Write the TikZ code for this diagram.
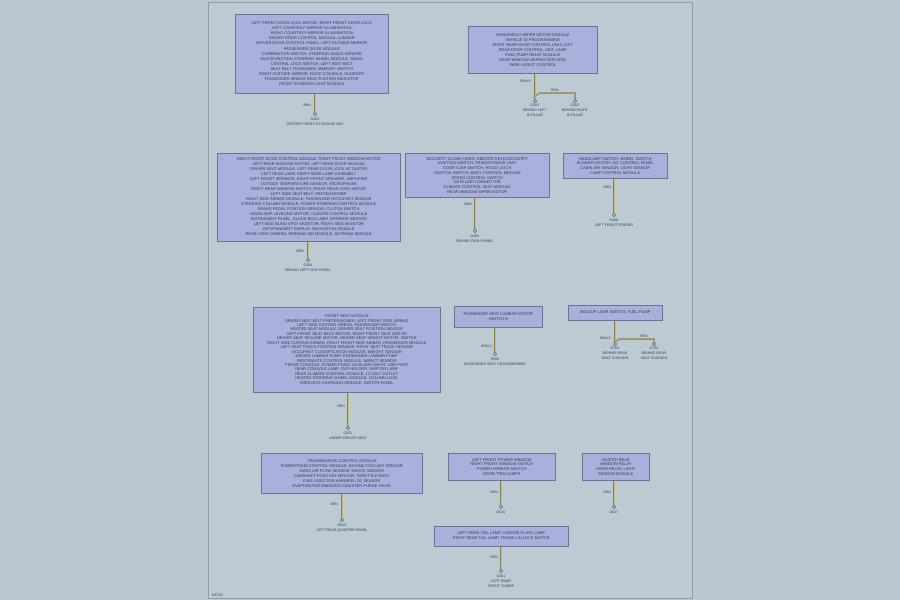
\documentclass[tikz,border=0pt]{standalone}
\usepackage{fontspec}
\setmainfont{Liberation Sans}
\definecolor{bgout}{HTML}{B8C7D1}
\definecolor{bgpage}{HTML}{BCCAD4}
\definecolor{pageline}{HTML}{8D9CA7}
\definecolor{boxfill}{HTML}{A9B0DC}
\definecolor{boxline}{HTML}{6D7395}
\definecolor{txt}{HTML}{363A50}
\definecolor{wireA}{HTML}{8A7E45}
\definecolor{wireB}{HTML}{C6C07C}
\tikzset{
  comp/.style={draw=boxline, fill=boxfill, line width=0.6pt, inner sep=0pt,
    align=center, anchor=north west, text=txt, font=\fontsize{4}{5}\selectfont},
  wire/.style={draw=wireA, line width=1.5pt, postaction={draw=wireB, line width=0.5pt}},
  gnd/.style={circle, draw=txt, line width=0.4pt, minimum size=3.4pt, inner sep=0pt, fill=bgpage},
  wl/.style={text=txt, inner sep=0pt, anchor=east, font=\fontsize{3.4}{4}\selectfont},
  gl/.style={text=txt, inner sep=0pt, anchor=north, align=center, font=\fontsize{3.6}{5}\selectfont}
}
\begin{document}
\begin{tikzpicture}[x=1pt,y=-1pt]
\useasboundingbox (0,0) rectangle (900,600);
\fill[bgout] (0,0) rectangle (900,600);
\draw[pageline, fill=bgpage, line width=0.8pt] (208,2) rectangle (692,598);

% ---------- Box A
\node[comp, minimum width=153pt, minimum height=79pt, font=\fontsize{4}{5.1}\selectfont] (A) at (235,14) {%
LEFT FRONT DOOR LOCK MOTOR, RIGHT FRONT DOOR LOCK\\
LEFT COURTESY MIRROR ILLUMINATION\\
RIGHT COURTESY MIRROR ILLUMINATION\\
DRIVER DOOR CONTROL MODULE, LUMBAR\\
DRIVER DOOR CONTROL PANEL, LEFT OUTSIDE MIRROR\\
PASSENGER DOOR MODULE\\
COMBINATION SWITCH, STEERING ANGLE SENSOR\\
MULTIFUNCTION STEERING WHEEL MODULE, RADIO\\
CENTRAL LOCK SWITCH, LEFT SEAT BELT\\
SEAT BELT TENSIONER, MEMORY SWITCH\\
RIGHT OUTSIDE MIRROR, ROOF CONSOLE, SUNROOF\\
PASSENGER AIRBAG DEACTIVATION INDICATOR\\
FRONT INTERIOR LIGHT MODULE};
\node[gnd] (gA) at (315,114) {};
\draw[wire] (A.south -| gA) -- (gA.north);
\node[wl] (wA) at (311,105) {BRN};
\node[gl] (tA) at (315,118) {G103\\CENTER FRONT OF ENGINE BAY};

% ---------- Box B
\node[comp, minimum width=129pt, minimum height=47pt] (B) at (468,26) {%
WINDSHIELD WIPER MOTOR MODULE\\
VEHICLE ID PROGRAMMING\\
RIGHT REAR DOOR CONTROL UNIT, LEFT\\
REAR DOOR CONTROL UNIT, LAMP\\
FUEL PUMP RELAY MODULE\\
REAR WINDOW DEFROSTER GRID\\
PARK ASSIST CONTROL};
\node[gnd] (gB1) at (535,101) {};
\node[gnd] (gB2) at (575,101) {};
\coordinate (bB) at (535,96);
\draw[wire] (B.south -| gB1) -- (gB1.north);
\draw[wire] (bB) -- ++(5,-3) -| (gB2.north);
\node[wl] (wB1) at (531,81) {BRN/V};
\node[wl, anchor=center] (wB2) at (555,90) {BRN};
\node[gl] (tB1) at (535,104) {G201\\BEHIND LEFT\\B-PILLAR};
\node[gl] (tB2) at (575,104) {G202\\BEHIND RIGHT\\B-PILLAR};

% ---------- Box C
\node[comp, minimum width=183pt, minimum height=88pt] (C) at (217,153) {%
RIGHT FRONT DOOR CONTROL MODULE, RIGHT FRONT WINDOW MOTOR\\
LEFT REAR WINDOW MOTOR, LEFT REAR DOOR MODULE\\
DRIVER SEAT MODULE, LEFT REAR DOOR LOCK ACTUATOR\\
LEFT REAR LAMP, RIGHT REAR LAMP ASSEMBLY\\
LEFT FRONT SPEAKER, RIGHT FRONT SPEAKER, AMPLIFIER\\
OUTSIDE TEMPERATURE SENSOR, MICROPHONE\\
RIGHT REAR WINDOW SWITCH, RIGHT REAR LOCK MOTOR\\
LEFT SIDE SEAT BELT, PRETENSIONER\\
RIGHT SIDE AIRBAG MODULE, PASSENGER OCCUPANT SENSOR\\
STEERING COLUMN MODULE, POWER STEERING CONTROL MODULE\\
BRAKE PEDAL POSITION SENSOR, CLUTCH SWITCH\\
HEADLAMP LEVELING MOTOR, CLIMATE CONTROL MODULE\\
INSTRUMENT PANEL, GLOVE BOX LAMP, INTERIOR SENSOR\\
LEFT SIDE BLIND SPOT MONITOR, RIGHT SIDE MONITOR\\
INFOTAINMENT DISPLAY, NAVIGATION MODULE\\
REAR VIEW CAMERA, PARKING AID MODULE, ANTENNA MODULE};
\node[gnd] (gC) at (308,260) {};
\draw[wire] (C.south -| gC) -- (gC.north);
\node[wl] (wC) at (304,251) {BRN};
\node[gl] (tC) at (308,264) {G304\\BEHIND LEFT KICK PANEL};

% ---------- Box D
\node[comp, minimum width=144pt, minimum height=44pt, font=\fontsize{4}{4.7}\selectfont] (D) at (405,153) {%
SECURITY ALARM HORN, REMOTE KEYLESS ENTRY\\
IGNITION SWITCH, TRANSPONDER UNIT\\
DOOR AJAR SWITCH, HOOD LATCH\\
IGNITION SWITCH, BODY CONTROL MODULE\\
SPEED CONTROL SWITCH\\
DATA LINK CONNECTOR\\
CLIMATE CONTROL SEAT MODULE\\
REAR WINDOW WIPER MOTOR};
\node[gnd] (gD) at (475,231) {};
\draw[wire] (D.south -| gD) -- (gD.north);
\node[wl] (wD) at (472,204) {BRN};
\node[gl] (tD) at (475,235) {G402\\BEHIND DASH PANEL};

% ---------- Box E
\node[comp, minimum width=104pt, minimum height=25pt, font=\fontsize{4}{4.6}\selectfont] (E) at (563,153) {%
HEADLAMP SWITCH, WHEEL SWITCH\\
BLOWER MOTOR, A/C CONTROL PANEL\\
CABIN AIR SENSOR, LIGHT SENSOR\\
LAMP CONTROL MODULE};
\node[gnd] (gE) at (614,215) {};
\draw[wire] (E.south -| gE) -- (gE.north);
\node[wl] (wE) at (611,187) {BRN};
\node[gl] (tE) at (614,219) {G406\\LEFT FRONT FENDER};

% ---------- Box F
\node[comp, minimum width=187pt, minimum height=85pt, font=\fontsize{4}{4.45}\selectfont] (F) at (253,307) {%
FRONT SEAT MODULE\\
DRIVER SEAT BELT PRETENSIONER, LEFT FRONT SIDE AIRBAG\\
LEFT SIDE CURTAIN AIRBAG, PASSENGER SWITCH\\
HEATED SEAT MODULE, DRIVER SEAT POSITION SENSOR\\
LEFT FRONT SEAT BACK MOTOR, RIGHT FRONT SEAT MOTOR\\
DRIVER SEAT RECLINE MOTOR, DRIVER SEAT HEIGHT MOTOR, SWITCH\\
RIGHT SIDE CURTAIN AIRBAG, RIGHT FRONT SIDE AIRBAG, PASSENGER MODULE\\
LEFT SEAT TRACK POSITION SENSOR, RIGHT SEAT TRACK SENSOR\\
OCCUPANT CLASSIFICATION MODULE, WEIGHT SENSOR\\
DRIVER LUMBAR PUMP, PASSENGER LUMBAR PUMP\\
RESTRAINTS CONTROL MODULE, IMPACT SENSOR\\
FRONT CONSOLE, POWER POINT, AUXILIARY INPUT, USB PORT\\
REAR CONSOLE LAMP, CUP HOLDER, SHIFTER LAMP\\
REAR CLIMATE CONTROL MODULE, 12 VOLT OUTLET\\
HEATED STEERING WHEEL MODULE, COLUMN LOCK\\
WIRELESS CHARGING MODULE, SWITCH PANEL};
\node[gnd] (gF) at (348,428) {};
\draw[wire] (F.south -| gF) -- (gF.north);
\node[wl] (wF) at (345,406) {BRN};
\node[gl] (tF) at (348,432) {G501\\UNDER DRIVER SEAT};

% ---------- Box G
\node[comp, minimum width=88pt, minimum height=21pt] (G) at (454,306) {%
PASSENGER SEAT LUMBAR MOTOR\\
SWITCH B};
\node[gnd] (gG) at (495,354) {};
\draw[wire] (G.south -| gG) -- (gG.north);
\node[wl] (wG) at (492,346) {BRN/V};
\node[gl] (tG) at (495,358) {G502\\PASSENGER SEAT CROSSMEMBER};

% ---------- Box H
\node[comp, minimum width=94pt, minimum height=15pt] (H) at (568,305) {%
BACKUP LAMP SWITCH, FUEL PUMP};
\node[gnd] (gH1) at (615,344) {};
\node[gnd] (gH2) at (654,344) {};
\coordinate (bH) at (615,342);
\draw[wire] (H.south -| gH1) -- (gH1.north);
\draw[wire] (bH) -- ++(4,-3) -| (gH2.north);
\node[wl] (wH1) at (611,338) {BRN/V};
\node[wl, anchor=center] (wH2) at (644,336) {BRN};
\node[gl] (tH1) at (615,347) {G701\\BEHIND REAR\\SEAT CUSHION};
\node[gl] (tH2) at (654,347) {G702\\BEHIND REAR\\SEAT CUSHION};

% ---------- Box I
\node[comp, minimum width=161pt, minimum height=40pt] (I) at (261,453) {%
TRANSMISSION CONTROL MODULE\\
POWERTRAIN CONTROL MODULE, ENGINE COOLANT SENSOR\\
MASS AIR FLOW SENSOR, KNOCK SENSOR\\
CAMSHAFT POSITION SENSOR, THROTTLE BODY\\
FUEL INJECTOR HARNESS, O2 SENSOR\\
EVAPORATIVE EMISSION CANISTER PURGE VALVE};
\node[gnd] (gI) at (342,520) {};
\draw[wire] (I.south -| gI) -- (gI.north);
\node[wl] (wI) at (338,504) {BRN};
\node[gl] (tI) at (342,524) {G610\\LEFT REAR QUARTER PANEL};

% ---------- Box J
\node[comp, minimum width=107pt, minimum height=27pt, font=\fontsize{4}{4.6}\selectfont] (J) at (448,453) {%
LEFT FRONT POWER WINDOW\\
RIGHT FRONT WINDOW SWITCH\\
POWER MIRROR SWITCH\\
DOOR TRIM LAMPS};
\node[gnd] (gJ) at (501,507) {};
\draw[wire] (J.south -| gJ) -- (gJ.north);
\node[wl] (wJ) at (498,492) {BRN};
\node[gl] (tJ) at (501,511) {G615};

% ---------- Box K
\node[comp, minimum width=67pt, minimum height=27pt, font=\fontsize{4}{4.6}\selectfont] (K) at (582,453) {%
HEATED REAR\\
WINDOW RELAY\\
HORN RELAY, LIGHT\\
SENSOR MODULE};
\node[gnd] (gK) at (614,507) {};
\draw[wire] (K.south -| gK) -- (gK.north);
\node[wl] (wK) at (611,492) {BRN};
\node[gl] (tK) at (614,511) {G617};

% ---------- Box L
\node[comp, minimum width=134pt, minimum height=20pt] (L) at (434,526) {%
LEFT REAR TAIL LAMP, LICENSE PLATE LAMP\\
RIGHT REAR TAIL LAMP, TRUNK LID LOCK MOTOR};
\node[gnd] (gL) at (501,571) {};
\draw[wire] (L.south -| gL) -- (gL.north);
\node[wl] (wL) at (498,557) {BRN};
\node[gl] (tL) at (501,575) {G301\\LEFT REAR\\STRUT TOWER};

% ---------- page id
\node[text=txt, inner sep=0pt, anchor=west, font=\fontsize{3.6}{4}\selectfont] (pid) at (212,595) {E8714};
\end{tikzpicture}
\end{document}
